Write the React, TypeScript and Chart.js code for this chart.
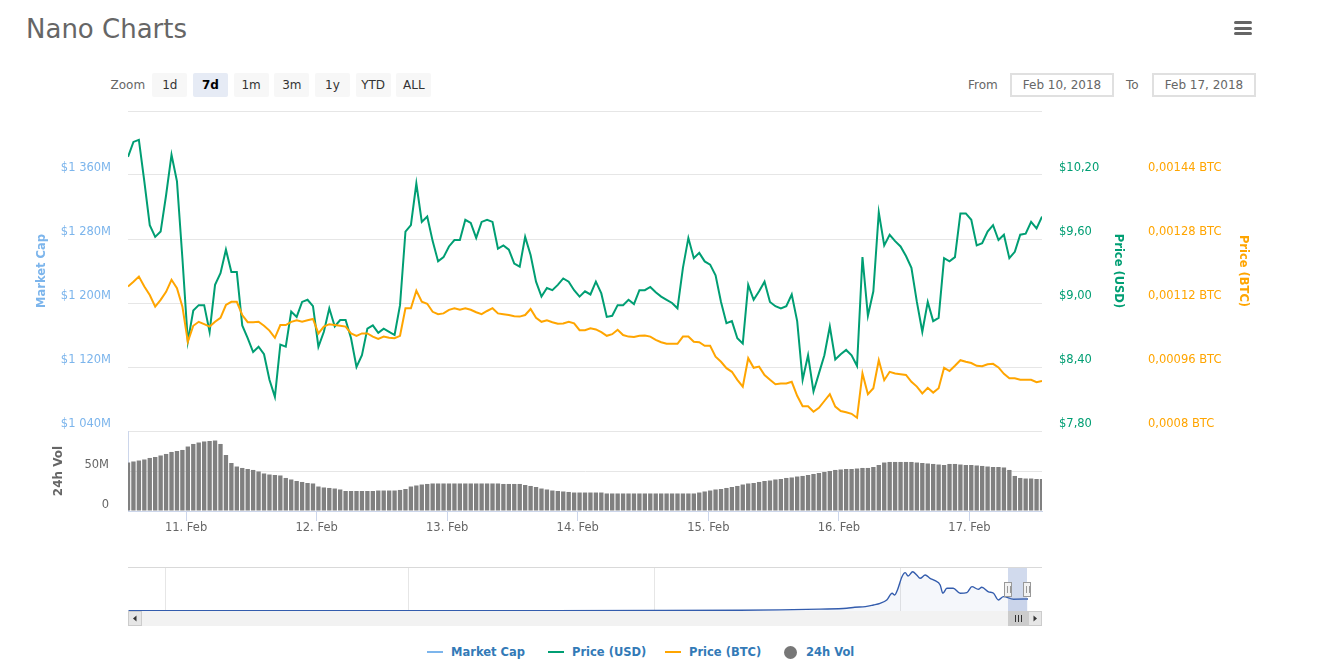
import React, { useEffect, useRef } from 'react';
import { Chart, registerables } from 'chart.js';

Chart.register(...registerables);

// ---------- data ----------
// hourly samples, hours after Feb 10 2018 00:00
const START_HOUR = 13.33;
const END_HOUR = 181.33;

const dayTickHours = [24, 48, 72, 96, 120, 144, 168];
const dayTickLabels = ['11. Feb', '12. Feb', '13. Feb', '14. Feb', '15. Feb', '16. Feb', '17. Feb'];

const priceUsd = [
  10.37, 10.51, 10.53, 10.14, 9.73, 9.62, 9.67, 10.01, 10.39, 10.14,
  9.42, 8.64, 8.93, 8.98, 8.98, 8.73, 9.17, 9.28, 9.5, 9.29,
  9.29, 8.79, 8.67, 8.54, 8.59, 8.52, 8.28, 8.12, 8.61, 8.59,
  8.92, 8.87, 9.01, 9.03, 8.97, 8.59, 8.73, 8.95, 8.78, 8.84,
  8.84, 8.67, 8.4, 8.51, 8.76, 8.79, 8.72, 8.76, 8.73, 8.7,
  8.98, 9.67, 9.73, 10.12, 9.76, 9.81, 9.58, 9.39, 9.43, 9.53,
  9.59, 9.59, 9.78, 9.75, 9.61, 9.76, 9.78, 9.76, 9.51, 9.54,
  9.5, 9.37, 9.34, 9.62, 9.45, 9.2, 9.06, 9.14, 9.12, 9.17,
  9.23, 9.2, 9.12, 9.06, 9.11, 9.08, 9.2, 9.09, 8.87, 8.88,
  8.98, 8.98, 9.03, 8.99, 9.12, 9.12, 9.15, 9.1, 9.06, 9.03,
  9.0, 8.95, 9.33, 9.61, 9.42, 9.47, 9.39, 9.36, 9.26, 9.01,
  8.81, 8.83, 8.67, 8.62, 9.17, 9.03, 9.11, 9.2, 9.01, 8.97,
  8.95, 8.97, 9.08, 8.83, 8.28, 8.51, 8.17, 8.34, 8.51, 8.78,
  8.47, 8.52, 8.56, 8.51, 8.41, 9.43, 8.88, 9.11, 9.85, 9.54,
  9.64, 9.58, 9.53, 9.44, 9.33, 9.01, 8.73, 9.01, 8.83, 8.86,
  9.42, 9.39, 9.43, 9.84, 9.84, 9.78, 9.54, 9.56, 9.67, 9.73,
  9.59, 9.64, 9.42, 9.48, 9.64, 9.65, 9.76, 9.7, 9.81,
];

const priceBtc = [
  0.001161, 0.001173, 0.001186, 0.001161, 0.00114, 0.001111, 0.001128, 0.001148, 0.001178, 0.001157,
  0.001111, 0.001023, 0.001063, 0.001073, 0.001067, 0.001061, 0.001073, 0.001083, 0.001115, 0.001123,
  0.001123, 0.00109, 0.001072, 0.001072, 0.001073, 0.001063, 0.001051, 0.001033, 0.001065, 0.001065,
  0.001073, 0.001077, 0.001073, 0.001077, 0.00108, 0.001044, 0.001061, 0.001067, 0.001065, 0.001063,
  0.001061, 0.001044, 0.001038, 0.001044, 0.001044, 0.001036, 0.00103, 0.001036, 0.001033, 0.001032,
  0.001038, 0.001107, 0.001107, 0.001151, 0.001123, 0.001118, 0.001098, 0.001092, 0.001094, 0.001103,
  0.001107, 0.001103, 0.001107, 0.001103, 0.001097, 0.001092, 0.0011, 0.001107, 0.001094, 0.001092,
  0.00109, 0.001087, 0.001086, 0.00109, 0.001105, 0.001083, 0.001073, 0.001077, 0.001072, 0.001068,
  0.001069, 0.001073, 0.001069, 0.001052, 0.001052, 0.001057, 0.001054, 0.001047, 0.001038, 0.001042,
  0.001053, 0.00104, 0.001036, 0.001035, 0.001038, 0.001039, 0.001036, 0.001028, 0.001022, 0.001018,
  0.001018, 0.001018, 0.001036, 0.001036, 0.001023, 0.001022, 0.001013, 0.001013, 0.000986, 0.000973,
  0.000957, 0.000948, 0.000928, 0.000911, 0.000982, 0.000958, 0.000961, 0.00094, 0.000928, 0.000917,
  0.000919, 0.000919, 0.000923, 0.000888, 0.000862, 0.000862, 0.000848, 0.000858, 0.000875, 0.000892,
  0.000861, 0.00085, 0.000847, 0.000843, 0.000833, 0.000944, 0.000892, 0.000907, 0.000977, 0.000927,
  0.000948, 0.000944, 0.000942, 0.00094, 0.000923, 0.000911, 0.000894, 0.000908, 0.000896, 0.000907,
  0.000958, 0.00095, 0.000963, 0.000977, 0.000973, 0.00097, 0.000963, 0.000962, 0.000967, 0.000968,
  0.000959, 0.000943, 0.000932, 0.000932, 0.000928, 0.000928, 0.000928, 0.000922, 0.000925,
];

// 24h volume, millions USD
const volume24h = [
  60.6, 61.9, 63.1, 64.4, 66.3, 67.5, 69.4, 71.3, 73.8, 75.0,
  76.3, 80.6, 83.8, 85.6, 86.9, 87.5, 88.1, 83.8, 70.0, 60.0,
  55.6, 53.8, 52.5, 51.3, 49.4, 46.9, 45.6, 45.0, 44.4, 41.3,
  39.4, 37.5, 36.3, 35.0, 34.4, 30.6, 29.4, 28.8, 28.1, 26.9,
  25.0, 25.0, 25.0, 25.0, 25.0, 25.0, 25.6, 25.6, 25.6, 25.6,
  26.3, 27.5, 30.6, 31.9, 33.1, 33.8, 34.4, 34.4, 34.4, 34.4,
  34.4, 34.4, 34.4, 34.4, 34.4, 34.4, 34.4, 34.4, 34.4, 33.8,
  33.8, 33.8, 33.8, 32.5, 31.3, 30.0, 28.1, 26.9, 25.6, 25.0,
  24.4, 23.8, 23.1, 23.1, 23.1, 23.1, 23.1, 23.1, 21.9, 21.9,
  21.9, 21.9, 21.9, 21.9, 21.9, 21.9, 21.9, 21.9, 21.9, 21.9,
  21.9, 21.9, 21.9, 21.9, 21.9, 23.1, 24.4, 25.6, 26.9, 27.5,
  28.8, 30.0, 31.3, 33.1, 34.4, 35.0, 36.3, 37.5, 38.1, 39.4,
  40.0, 41.3, 41.9, 43.1, 43.8, 45.0, 46.3, 47.5, 48.8, 50.0,
  51.3, 51.9, 52.5, 52.5, 53.1, 53.8, 53.8, 55.0, 57.5, 60.6,
  61.3, 61.3, 61.3, 61.3, 61.3, 60.6, 60.0, 59.4, 58.8, 58.1,
  57.5, 58.8, 58.8, 58.1, 57.5, 57.5, 56.9, 56.3, 55.6, 55.0,
  55.0, 54.4, 51.3, 43.8, 41.3, 40.6, 40.6, 40.0, 40.0,
];

const mcapTickValues = [1040, 1120, 1200, 1280, 1360, 1440];
const mcapTickLabels = ['$1 040M', '$1 120M', '$1 200M', '$1 280M', '$1 360M', ''];
const usdTickValues = [7.8, 8.4, 9.0, 9.6, 10.2, 10.8];
const usdTickLabels = ['$7,80', '$8,40', '$9,00', '$9,60', '$10,20', ''];
const btcTickValues = [0.0008, 0.00096, 0.00112, 0.00128, 0.00144, 0.0016];
const btcTickLabels = ['0,0008 BTC', '0,00096 BTC', '0,00112 BTC', '0,00128 BTC', '0,00144 BTC', ''];
const volTickValues = [0, 50, 100];
const volTickLabels = ['0', '50M', ''];

// navigator: days after Jan 1 2018, market cap in $B
const NAV_MIN_DAY = -289.2;
const NAV_MAX_DAY = 47.9;
const navDays = [-289, -240, -180, -130, -90, -60, -45, -30, -20, -17, -13, -10, -7.5, -5, -3, -2, -1, 0.7, 1.9, 3, 4.7, 6.2, 7.5, 9.4, 11.2, 13.1, 15, 16, 17.5, 19.9, 22.5, 25, 26.9, 29.3, 30.6, 33.1, 35, 36.8, 38.7, 42.5, 47.9];
const navMarketCap = [0.02, 0.02, 0.04, 0.04, 0.05, 0.08, 0.12, 0.2, 0.29, 0.4, 0.47, 0.65, 0.83, 1.19, 1.91, 1.73, 2.27, 3.7, 4.14, 3.78, 4.24, 3.89, 3.53, 3.89, 3.53, 3.27, 2.81, 1.91, 2.45, 2.45, 1.91, 1.98, 2.63, 2.34, 2.56, 2.07, 1.91, 1.19, 1.55, 1.27, 1.3];
const navTickDays = [-275, -184, -92, 0];
const navTickLabels = ["Apr '17", "Jul '17", "Oct '17", "Jan '18"];
const SELECTED_START_DAY = 40.56;
const SELECTED_END_DAY = 47.56;

const zoomButtons = ['1d', '7d', '1m', '3m', '1y', 'YTD', 'ALL'];
const SELECTED_ZOOM = '7d';
const rangeFrom = 'Feb 10, 2018';
const rangeTo = 'Feb 17, 2018';

// ---------- styles ----------
const FONT = '"DejaVu Sans", Verdana, sans-serif';
const COLOR_MCAP = '#7cb5ec';
const COLOR_USD = '#009e73';
const COLOR_BTC = '#ffa500';
const COLOR_VOL = '#777777';

const legendItems = [
  { label: 'Market Cap', color: COLOR_MCAP, symbol: 'line', left: 427 },
  { label: 'Price (USD)', color: COLOR_USD, symbol: 'line', left: 548 },
  { label: 'Price (BTC)', color: COLOR_BTC, symbol: 'line', left: 665 },
  { label: '24h Vol', color: COLOR_VOL, symbol: 'circle', left: 784 },
];

const tickFont = { family: FONT, size: 11.5 };

const setTicks = (values: number[]) => (scale: any) => {
  scale.ticks = values.map((v) => ({ value: v }));
};

const fixWidth = (w: number) => (s: any) => {
  s.width = w;
  s.paddingTop = 0;
  s.paddingBottom = 0;
};

const navigatorExtras = {
  id: 'navigatorExtras',
  afterDatasetsDraw(chart: any) {
    const { ctx, chartArea: a } = chart;
    const xs = chart.scales.x;
    const x0 = Math.round(xs.getPixelForValue(SELECTED_START_DAY));
    const x1 = Math.round(xs.getPixelForValue(SELECTED_END_DAY));
    const btn = 14;
    const right = a.right + btn;
    ctx.save();
    ctx.fillStyle = 'rgba(102,133,194,0.3)';
    ctx.fillRect(x0, a.top, x1 - x0, a.bottom - a.top);
    ctx.strokeStyle = '#d9d9d9';
    ctx.lineWidth = 1;
    ctx.beginPath();
    ctx.moveTo(a.left, Math.round(a.top) + 0.5);
    ctx.lineTo(right, Math.round(a.top) + 0.5);
    ctx.stroke();
    // scrollbar
    const sy = Math.round(a.bottom);
    const sh = 15;
    ctx.fillStyle = '#f2f2f2';
    ctx.fillRect(a.left, sy, right - a.left, sh);
    ctx.fillStyle = '#cccccc';
    ctx.fillRect(x0, sy, a.right - x0, sh);
    ctx.strokeStyle = '#333333';
    const gx = Math.round((x0 + a.right) / 2);
    for (const dx of [-3, 0, 3]) {
      ctx.beginPath();
      ctx.moveTo(gx + dx + 0.5, sy + 4);
      ctx.lineTo(gx + dx + 0.5, sy + 11);
      ctx.stroke();
    }
    const drawButton = (bx: number, dir: number) => {
      ctx.fillStyle = '#e6e6e6';
      ctx.fillRect(bx, sy, btn, sh);
      ctx.strokeStyle = '#cccccc';
      ctx.strokeRect(bx + 0.5, sy + 0.5, btn - 1, sh - 1);
      ctx.fillStyle = '#333333';
      const cx = bx + btn / 2;
      const cy = sy + sh / 2;
      ctx.beginPath();
      if (dir < 0) {
        ctx.moveTo(cx - 2, cy);
        ctx.lineTo(cx + 1.5, cy - 3);
        ctx.lineTo(cx + 1.5, cy + 3);
      } else {
        ctx.moveTo(cx + 2, cy);
        ctx.lineTo(cx - 1.5, cy - 3);
        ctx.lineTo(cx - 1.5, cy + 3);
      }
      ctx.closePath();
      ctx.fill();
    };
    drawButton(a.left, -1);
    drawButton(a.right, 1);
    const drawHandle = (hx: number) => {
      const w = 8;
      const h = 15;
      const top = Math.round((a.top + a.bottom) / 2 - h / 2);
      ctx.fillStyle = '#f2f2f2';
      ctx.strokeStyle = '#999999';
      ctx.fillRect(hx - w / 2, top, w, h);
      ctx.strokeRect(hx - w / 2 + 0.5, top + 0.5, w - 1, h - 1);
      for (const dx of [-1.5, 1.5]) {
        ctx.beginPath();
        ctx.moveTo(Math.round(hx + dx) + 0.5, top + 4);
        ctx.lineTo(Math.round(hx + dx) + 0.5, top + h - 4);
        ctx.stroke();
      }
    };
    drawHandle(x0);
    drawHandle(x1);
    ctx.restore();
  },
};

export default function App() {
  const mainRef = useRef<HTMLCanvasElement>(null);
  const volRef = useRef<HTMLCanvasElement>(null);
  const navRef = useRef<HTMLCanvasElement>(null);

  useEffect(() => {
    document.body.style.margin = '0';
    Chart.defaults.font.family = FONT;
    const hours = priceUsd.map((_, i) => START_HOUR + i);
    const charts: Chart[] = [];

    charts.push(
      new Chart(mainRef.current as HTMLCanvasElement, {
        type: 'line',
        data: {
          datasets: [
            {
              label: 'Price (BTC)',
              data: priceBtc.map((v, i) => ({ x: hours[i], y: v })),
              yAxisID: 'yBtc',
              borderColor: COLOR_BTC,
              borderWidth: 2,
              pointRadius: 0,
              tension: 0,
              order: 1,
            },
            {
              label: 'Price (USD)',
              data: priceUsd.map((v, i) => ({ x: hours[i], y: v })),
              yAxisID: 'yUsd',
              borderColor: COLOR_USD,
              borderWidth: 2,
              pointRadius: 0,
              tension: 0,
              order: 2,
            },
          ],
        },
        options: {
          responsive: false,
          animation: false,
          events: [],
          layout: { padding: { top: 11, bottom: 14, left: 0, right: 0 } },
          plugins: { legend: { display: false }, tooltip: { enabled: false } },
          scales: {
            x: { type: 'linear', min: START_HOUR, max: END_HOUR, display: false },
            yMcap: {
              type: 'linear',
              position: 'left',
              min: mcapTickValues[0],
              max: mcapTickValues[mcapTickValues.length - 1],
              afterBuildTicks: setTicks(mcapTickValues),
              afterFit: fixWidth(128),
              grid: { color: '#e6e6e6', drawTicks: false },
              border: { display: false },
              ticks: {
                color: COLOR_MCAP,
                padding: 17,
                labelOffset: -7,
                font: tickFont,
                callback: (_v: any, i: number) => mcapTickLabels[i],
              },
              title: {
                display: true,
                text: 'Market Cap',
                color: COLOR_MCAP,
                font: { family: FONT, size: 11.5, weight: 'bold' },
                padding: { top: 35, bottom: 0 },
              },
            },
            yUsd: {
              type: 'linear',
              position: 'right',
              weight: 0,
              min: usdTickValues[0],
              max: usdTickValues[usdTickValues.length - 1],
              afterBuildTicks: setTicks(usdTickValues),
              afterFit: fixWidth(96),
              grid: { display: false, drawTicks: false },
              border: { display: false },
              ticks: {
                color: COLOR_USD,
                padding: 17,
                labelOffset: -7,
                font: tickFont,
                callback: (_v: any, i: number) => usdTickLabels[i],
              },
              title: {
                display: true,
                text: 'Price (USD)',
                color: COLOR_USD,
                font: { family: FONT, size: 11.5, weight: 'bold' },
                padding: { top: 12.8, bottom: 0 },
              },
            },
            yBtc: {
              type: 'linear',
              position: 'right',
              weight: 1,
              min: btcTickValues[0],
              max: btcTickValues[btcTickValues.length - 1],
              afterBuildTicks: setTicks(btcTickValues),
              afterFit: fixWidth(200),
              grid: { display: false, drawTicks: false },
              border: { display: false },
              ticks: {
                color: COLOR_BTC,
                padding: 10,
                labelOffset: -7,
                font: tickFont,
                callback: (_v: any, i: number) => btcTickLabels[i],
              },
              title: {
                display: true,
                text: 'Price (BTC)',
                color: COLOR_BTC,
                font: { family: FONT, size: 11.5, weight: 'bold' },
                padding: { top: 88.6, bottom: 0 },
              },
            },
          },
        } as any,
      })
    );

    charts.push(
      new Chart(volRef.current as HTMLCanvasElement, {
        type: 'bar',
        data: {
          datasets: [
            {
              label: '24h Vol',
              data: volume24h.map((v, i) => ({ x: hours[i], y: v })),
              backgroundColor: '#808080',
              barPercentage: 0.8,
              categoryPercentage: 1,
              yAxisID: 'yVol',
            },
          ],
        },
        options: {
          responsive: false,
          animation: false,
          events: [],
          layout: { padding: { top: 11, right: 296, bottom: 0, left: 0 } },
          plugins: { legend: { display: false }, tooltip: { enabled: false } },
          scales: {
            x: {
              type: 'linear',
              min: START_HOUR,
              max: END_HOUR,
              offset: false,
              afterBuildTicks: setTicks(dayTickHours),
              afterFit: (s: any) => { s.height = 39; s.paddingLeft = 0; s.paddingRight = 0; },
              grid: { display: true, offset: false, drawOnChartArea: false, drawTicks: true, tickLength: 10, color: '#ccd6eb' },
              border: { display: true, color: '#ccd6eb' },
              ticks: {
                padding: 0,
                color: '#666666',
                font: tickFont,
                maxRotation: 0,
                autoSkip: false,
                callback: (_v: any, i: number) => dayTickLabels[i],
              },
            },
            yVol: {
              type: 'linear',
              position: 'left',
              min: volTickValues[0],
              max: volTickValues[volTickValues.length - 1],
              afterBuildTicks: setTicks(volTickValues),
              afterFit: fixWidth(128),
              grid: { color: '#e6e6e6', drawTicks: false },
              border: { display: true, color: '#ccd6eb' },
              ticks: {
                color: '#666666',
                padding: 19,
                labelOffset: -6,
                font: tickFont,
                callback: (_v: any, i: number) => volTickLabels[i],
              },
              title: {
                display: true,
                text: '24h Vol',
                color: '#666666',
                font: { family: FONT, size: 12, weight: 'bold' },
                padding: { top: 51.5, bottom: 0 },
              },
            },
          },
        } as any,
      })
    );

    charts.push(
      new Chart(navRef.current as HTMLCanvasElement, {
        type: 'line',
        data: {
          datasets: [
            {
              label: 'Market Cap',
              data: navDays.map((d, i) => ({ x: d, y: navMarketCap[i] })),
              borderColor: '#335cad',
              borderWidth: 1.4,
              backgroundColor: 'rgba(51,92,173,0.05)',
              fill: 'origin',
              pointRadius: 0,
              cubicInterpolationMode: 'monotone',
            },
          ],
        },
        options: {
          responsive: false,
          animation: false,
          events: [],
          layout: { padding: { top: 7, bottom: 19, left: 128, right: 310 } },
          plugins: { legend: { display: false }, tooltip: { enabled: false } },
          scales: {
            x: {
              type: 'linear',
              min: NAV_MIN_DAY,
              max: NAV_MAX_DAY,
              afterBuildTicks: setTicks(navTickDays),
              afterFit: (s: any) => { s.height = 0; s.paddingLeft = 0; s.paddingRight = 0; },
              grid: { color: '#e6e6e6', drawTicks: false },
              border: { display: false },
              ticks: {
                align: 'start',
                padding: -15.4,
                labelOffset: 5,
                color: '#999999',
                font: tickFont,
                maxRotation: 0,
                autoSkip: false,
                callback: (_v: any, i: number) => navTickLabels[i],
              },
            },
            y: { display: false, min: 0, max: 4.75 },
          },
        } as any,
        plugins: [navigatorExtras as any],
      })
    );

    return () => charts.forEach((c) => c.destroy());
  }, []);

  const abs = (s: any) => ({ position: 'absolute', ...s });

  return (
    <div style={abs({ left: 0, top: 0, width: 1338, height: 672, overflow: 'hidden', background: '#fff', fontFamily: FONT })}>
      <div style={abs({ left: 26, top: 16, fontSize: 26, lineHeight: '26px', color: '#666666', whiteSpace: 'nowrap' })}>Nano Charts</div>
      {[21, 26.5, 32].map((t) => (
        <div key={t} style={abs({ left: 1234, top: t, width: 18, height: 3, borderRadius: 1.5, background: '#666666' })} />
      ))}
      <div style={abs({ left: 110.5, top: 73, height: 24, lineHeight: '24px', fontSize: 12, color: '#666666' })}>Zoom</div>
      {zoomButtons.map((b, k) => (
        <div
          key={b}
          style={abs({
            left: 152.3 + k * 40.67,
            top: 73,
            width: 35,
            height: 24,
            lineHeight: '24px',
            textAlign: 'center',
            fontSize: 12,
            borderRadius: 2,
            background: b === SELECTED_ZOOM ? '#e6ebf5' : '#f7f7f7',
            color: b === SELECTED_ZOOM ? '#000' : '#333',
            fontWeight: b === SELECTED_ZOOM ? 'bold' : 'normal',
          })}
        >
          {b}
        </div>
      ))}
      <div style={abs({ left: 968, top: 73, height: 24, lineHeight: '24px', fontSize: 12, color: '#666666' })}>From</div>
      <div style={abs({ left: 1010, top: 73, width: 104, height: 24, boxSizing: 'border-box', border: '2px solid #e0e0e0', lineHeight: '20px', textAlign: 'center', fontSize: 12, color: '#666666' })}>{rangeFrom}</div>
      <div style={abs({ left: 1126, top: 73, height: 24, lineHeight: '24px', fontSize: 12, color: '#666666' })}>To</div>
      <div style={abs({ left: 1152, top: 73, width: 104, height: 24, boxSizing: 'border-box', border: '2px solid #e0e0e0', lineHeight: '20px', textAlign: 'center', fontSize: 12, color: '#666666' })}>{rangeTo}</div>

      <canvas ref={mainRef} width={1338} height={345} style={abs({ left: 0, top: 100, width: 1338, height: 345 })} />
      <canvas ref={volRef} width={1338} height={130} style={abs({ left: 0, top: 420, width: 1338, height: 130 })} />
      <canvas ref={navRef} width={1338} height={70} style={abs({ left: 0, top: 560, width: 1338, height: 70 })} />

      {legendItems.map((it) => (
        <React.Fragment key={it.label}>
          {it.symbol === 'line' ? (
            <div style={abs({ left: it.left, top: 651, width: 16, height: 2, background: it.color })} />
          ) : (
            <div style={abs({ left: it.left, top: 645.5, width: 13, height: 13, borderRadius: '50%', background: it.color })} />
          )}
          <div style={abs({ left: it.left + (it.symbol === 'line' ? 24 : 22), top: 640, height: 24, lineHeight: '24px', fontSize: 11.5, fontWeight: 'bold', color: '#337ab7', whiteSpace: 'nowrap' })}>
            {it.label}
          </div>
        </React.Fragment>
      ))}
    </div>
  );
}
